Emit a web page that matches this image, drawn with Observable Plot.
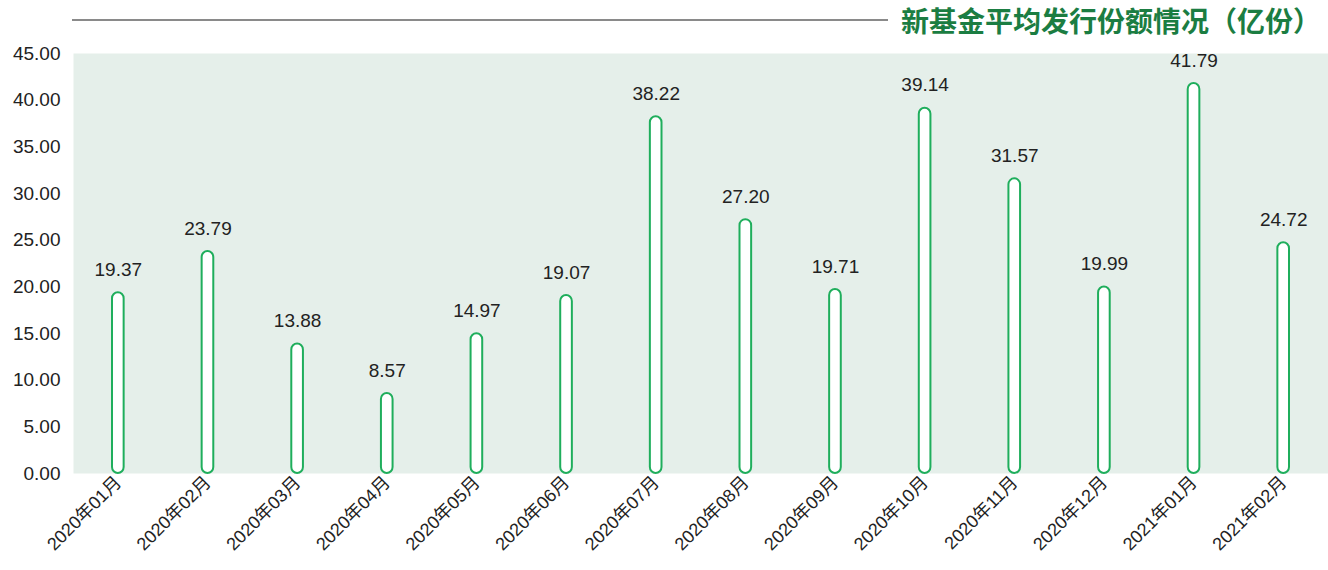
<!DOCTYPE html>
<html>
<head>
<meta charset="utf-8">
<script src="https://cdn.jsdelivr.net/npm/d3@7"></script>
<script src="https://cdn.jsdelivr.net/npm/@observablehq/plot@0.6"></script>
<style>
  body { margin: 0; background: #fff; font-family: "Liberation Sans", "Noto Sans CJK SC", sans-serif; }
  #wrap { position: relative; width: 1328px; height: 570px; }
  #title { position: absolute; top: 0; left: 0; width: 1328px; height: 40px; }
  #title .line { position: absolute; left: 72px; top: 19px; width: 816px; height: 1.5px; background: #8a8a8a; }
  #title .txt { position: absolute; right: 7px; top: 2px; font-family: "Noto Sans CJK SC", sans-serif; font-weight: 700; font-size: 28px; color: #1b7d42; line-height: 36px; }
  #chart { position: absolute; top: 40px; left: 0; }
</style>
</head>
<body>
<div id="wrap">
  <div id="title"><div class="line"></div><div class="txt">新基金平均发行份额情况（亿份）</div></div>
  <div id="chart"></div>
</div>
<script>
const months = ["2020年01月","2020年02月","2020年03月","2020年04月","2020年05月","2020年06月","2020年07月","2020年08月","2020年09月","2020年10月","2020年11月","2020年12月","2021年01月","2021年02月"];
const values = [19.37, 23.79, 13.88, 8.57, 14.97, 19.07, 38.22, 27.20, 19.71, 39.14, 31.57, 19.99, 41.79, 24.72];
const yTicks = [0, 5, 10, 15, 20, 25, 30, 35, 40, 45];

const data = months.map((m, i) => ({month: m, value: values[i]}));

const chart = Plot.plot({
  width: 1328,
  height: 530,
  marginTop: 13,
  marginBottom: 97,
  marginLeft: 73,
  marginRight: 0,
  style: {fontFamily: "Liberation Sans, Noto Sans CJK SC, sans-serif", color: "#222", background: "transparent"},
  x: {domain: months, padding: 0, round: false, label: null},
  y: {domain: [0, 45], label: null},
  marks: [
    Plot.frame({fill: "#e5efea", stroke: null}),
    Plot.axisY({ticks: yTicks, tickFormat: d => d.toFixed(2), tickSize: 0, tickPadding: 13, fontSize: 19, label: null}),
    Plot.axisX({tickRotate: -45, tickSize: 0, tickPadding: 6, fontSize: 18, label: null}),
    Plot.barY(data, {x: "month", y: "value", fill: "#fff", stroke: "#1fae5c", strokeWidth: 2, rx: 6, insetLeft: 39, insetRight: 39}),
    Plot.text(data, {x: "month", y: "value", text: d => d.value.toFixed(2), dy: -23, fontSize: 19, fill: "#222"})
  ]
});
document.getElementById("chart").appendChild(chart);
</script>
</body>
</html>
